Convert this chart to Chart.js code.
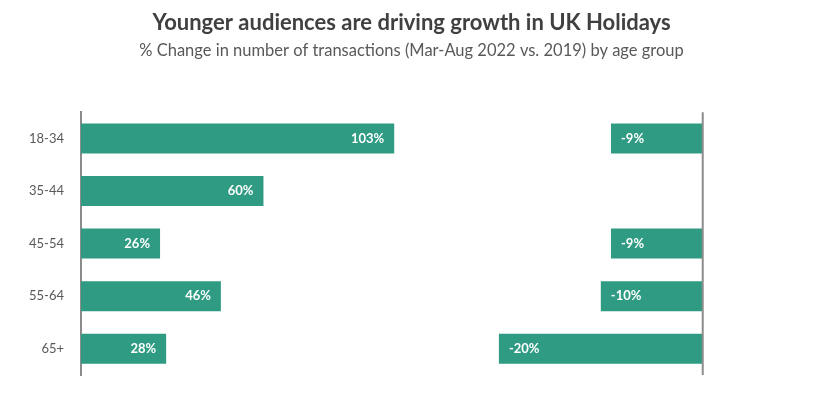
<!DOCTYPE html>
<html>
<head>
<meta charset="utf-8">
<script src="https://cdn.jsdelivr.net/npm/chart.js@4.4.0/dist/chart.umd.min.js"></script>
<style>
  html, body { margin: 0; padding: 0; background: #fff; }
  #wrap { width: 823px; height: 412px; }
</style>
</head>
<body>
<div id="wrap"><canvas id="chart" width="823" height="412"></canvas></div>
<script>
const ageGroups = ['18-34', '35-44', '45-54', '55-64', '65+'];
const growthVals = [103, 60, 26, 46, 28];
const declineVals = [-9, null, -9, -10, -20];

const barColor = '#2E9B82';
const axisGray = '#8C8C8C';
const fontFam = "'Lato', 'Open Sans', sans-serif";

// white value labels inside bar ends
const valueLabels = {
    id: 'valueLabels',
    afterDatasetsDraw(chart) {
        const ctx = chart.ctx;
        ctx.save();
        ctx.fillStyle = '#ffffff';
        ctx.font = "bold 13px " + fontFam;
        ctx.textBaseline = 'middle';
        chart.data.datasets.forEach((ds, i) => {
            chart.getDatasetMeta(i).data.forEach((bar, j) => {
                const v = ds.data[j];
                if (v == null) return;
                if (v >= 0) {
                    ctx.textAlign = 'right';
                    ctx.fillText(v + '%', bar.x - 10, bar.y);
                } else {
                    ctx.textAlign = 'left';
                    ctx.fillText(v + '%', bar.x + 10, bar.y);
                }
            });
        });
        ctx.restore();
    }
};

// vertical zero line for the decline panel
const zeroLine = {
    id: 'zeroLine',
    afterDatasetsDraw(chart) {
        const sc = chart.scales.x2;
        const area = chart.chartArea;
        const x = sc.getPixelForValue(0);
        const ctx = chart.ctx;
        ctx.save();
        ctx.strokeStyle = axisGray;
        ctx.lineWidth = 2;
        ctx.beginPath();
        ctx.moveTo(x, area.top);
        ctx.lineTo(x, area.bottom);
        ctx.stroke();
        ctx.restore();
    }
};

const ctx = document.getElementById('chart').getContext('2d');
const chart = new Chart(ctx, {
    type: 'bar',
    data: {
        labels: ageGroups,
        datasets: [{
            label: 'Growth',
            data: growthVals,
            xAxisID: 'x',
            backgroundColor: barColor,
            grouped: false,
            barPercentage: 0.57,
            categoryPercentage: 1.0
        }, {
            label: 'Decline',
            data: declineVals,
            xAxisID: 'x2',
            backgroundColor: barColor,
            grouped: false,
            barPercentage: 0.57,
            categoryPercentage: 1.0
        }]
    },
    options: {
        indexAxis: 'y',
        responsive: false,
        animation: false,
        layout: { padding: { left: 0, right: 0, top: 0, bottom: 37 } },
        plugins: {
            legend: { display: false },
            tooltip: { enabled: false },
            title: {
                display: true,
                text: 'Younger audiences are driving growth in UK Holidays',
                color: '#404040',
                font: { family: fontFam, size: 22, weight: 'bold' },
                padding: { top: 10, bottom: 3 }
            },
            subtitle: {
                display: true,
                text: '% Change in number of transactions (Mar-Aug 2022 vs. 2019) by age group',
                color: '#595959',
                font: { family: fontFam, size: 16.5 },
                padding: { top: 1, bottom: 52 }
            }
        },
        scales: {
            x: {
                display: false,
                min: 0,
                max: 244
            },
            x2: {
                display: false,
                min: -61,
                max: 11.8
            },
            y: {
                grid: { display: false },
                border: { display: true, color: axisGray, width: 2 },
                ticks: {
                    color: '#595959',
                    font: { family: fontFam, size: 13 },
                    padding: 9
                },
                afterFit(scale) { scale.width = 81; }
            }
        }
    },
    plugins: [valueLabels, zeroLine]
});
</script>
</body>
</html>
